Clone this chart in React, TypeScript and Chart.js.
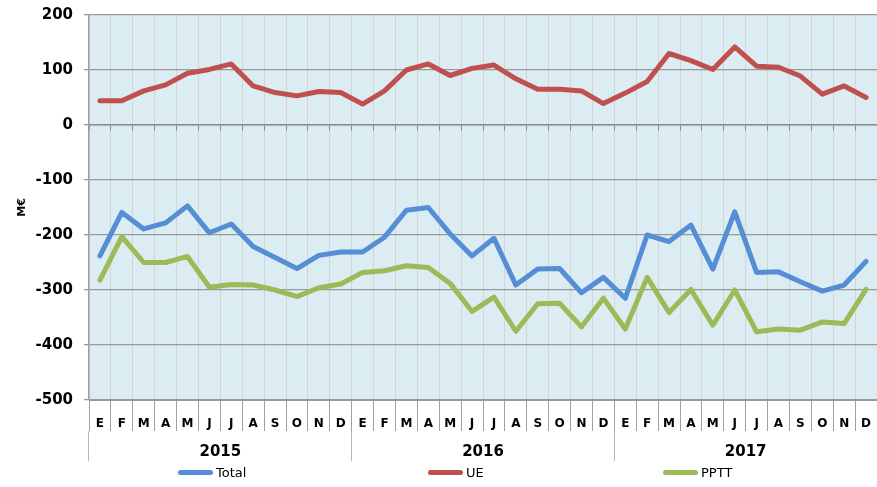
import React, { useEffect, useRef } from 'react';
import { Chart, registerables } from 'chart.js';

Chart.register(...registerables);

// ---------- data ----------
const monthLabels = [
  'E', 'F', 'M', 'A', 'M', 'J', 'J', 'A', 'S', 'O', 'N', 'D',
  'E', 'F', 'M', 'A', 'M', 'J', 'J', 'A', 'S', 'O', 'N', 'D',
  'E', 'F', 'M', 'A', 'M', 'J', 'J', 'A', 'S', 'O', 'N', 'D',
];
const yearLabels = ['2015', '2016', '2017'];

const seriesNames = ['Total', 'UE', 'PPTT'];
const seriesColors = ['#558ed5', '#c0504d', '#9bbb59'];

const totalValues = [
  -238, -159, -189, -178, -147, -196, -180, -221, -241, -261, -237, -231,
  -231, -204, -155, -150, -198, -238, -206, -291, -262, -261, -305, -277,
  -315, -200, -212, -182, -262, -158, -268, -267, -285, -302, -291, -248,
];
const ueValues = [
  44, 44, 62, 73, 94, 101, 111, 71, 59, 53, 61, 59,
  38, 62, 100, 111, 90, 103, 109, 84, 65, 65, 62, 39,
  58, 79, 130, 117, 101, 142, 107, 105, 89, 56, 71, 50,
];
const ppttValues = [
  -282, -203, -250, -250, -239, -295, -290, -291, -300, -312, -296, -289,
  -268, -265, -256, -259, -288, -339, -313, -375, -325, -324, -367, -315,
  -371, -277, -341, -299, -364, -300, -376, -371, -373, -358, -361, -299,
];

const yMin = -500;
const yMax = 200;
const yStep = 100;
const yTitle = 'M€';

// ---------- layout / style ----------
const W = 877;
const H = 487;
const FONT = "'DejaVu Sans', Verdana, sans-serif";
const legendLefts = [178, 428, 663];

const plotBackground = {
  id: 'plotBackground',
  beforeDraw(chart: any) {
    const { ctx, chartArea } = chart;
    if (!chartArea) return;
    ctx.save();
    ctx.fillStyle = '#dbecf2';
    ctx.fillRect(chartArea.left, chartArea.top, chartArea.right - chartArea.left, chartArea.bottom - chartArea.top);
    ctx.restore();
  },
};

export default function App() {
  const canvasRef = useRef<HTMLCanvasElement | null>(null);

  useEffect(() => {
    if (!canvasRef.current) return;
    const allValues = [totalValues, ueValues, ppttValues];
    const chart = new Chart(canvasRef.current, {
      type: 'line',
      data: {
        labels: monthLabels,
        datasets: seriesNames.map((name, i) => ({
          label: name,
          data: allValues[i],
          borderColor: seriesColors[i],
          backgroundColor: seriesColors[i],
          borderWidth: 5,
          pointRadius: 0,
          pointHoverRadius: 0,
          tension: 0,
          fill: false,
          borderJoinStyle: 'round',
          borderCapStyle: 'round',
        })),
      },
      options: {
        animation: false,
        responsive: false,
        maintainAspectRatio: false,
        events: [],
        layout: { padding: { top: 15, right: 0, bottom: 26, left: 0 } },
        plugins: {
          legend: { display: false },
          tooltip: { enabled: false },
        },
        scales: {
          x: {
            type: 'category',
            position: 'bottom',
            offset: true,
            weight: 0,
            grid: {
              offset: true,
              color: '#d4d4d4',
              lineWidth: 1,
              tickColor: '#a0a0a0',
              tickLength: 31,
              drawOnChartArea: true,
            },
            border: { display: true, color: '#999999', width: 1 },
            ticks: {
              font: { family: FONT, size: 12, weight: 'bold' },
              color: '#000',
              padding: -14.5,
              maxRotation: 0,
              autoSkip: false,
            },
            afterFit: (s: any) => {
              s.height = 31;
            },
          },
          x2: {
            type: 'category',
            labels: yearLabels,
            position: 'bottom',
            offset: true,
            weight: 1,
            grid: {
              offset: true,
              drawOnChartArea: false,
              tickLength: 30,
              tickColor: '#b8b8b8',
              lineWidth: 1,
            },
            border: { display: false },
            ticks: {
              font: { family: FONT, size: 15, weight: 'bold' },
              color: '#000',
              padding: -18,
              maxRotation: 0,
              autoSkip: false,
            },
            afterFit: (s: any) => {
              s.height = 30;
            },
          },
          x0: {
            type: 'category',
            labels: monthLabels,
            position: { y: 0 },
            offset: true,
            grid: {
              offset: true,
              drawOnChartArea: false,
              tickLength: 5,
              tickColor: '#8c8c8c',
              lineWidth: 1,
            },
            border: { display: true, color: '#8c8c8c', width: 1.5 },
            ticks: { display: false },
          },
          y: {
            type: 'linear',
            min: yMin,
            max: yMax,
            ticks: {
              stepSize: yStep,
              font: { family: FONT, size: 15, weight: 'bold' },
              color: '#000',
              padding: 11,
            },
            grid: {
              color: '#999999',
              lineWidth: 1.3,
              tickLength: 5,
              tickColor: '#999999',
            },
            border: { display: true, color: '#a0a0a0', width: 1.5 },
            title: {
              display: true,
              text: yTitle,
              font: { family: FONT, size: 11, weight: 'bold' },
              color: '#000',
              padding: { top: 16, bottom: 0 },
            },
            afterFit: (s: any) => {
              s.width = 89;
              s.paddingTop = 0;
              s.paddingBottom = 0;
            },
          },
        },
      },
      plugins: [plotBackground],
    } as any);
    return () => chart.destroy();
  }, []);

  return (
    <div style={{ position: 'absolute', left: 0, top: 0, width: W, height: H, background: '#fff' }}>
      <canvas ref={canvasRef} width={W} height={H} style={{ display: 'block', width: W, height: H }} />
      {seriesNames.map((name, i) => (
        <div
          key={name}
          style={{
            position: 'absolute',
            left: legendLefts[i],
            top: 464,
            height: 17,
            display: 'flex',
            alignItems: 'center',
            fontFamily: FONT,
            fontSize: 13,
            color: '#000',
            whiteSpace: 'nowrap',
          }}
        >
          <span
            style={{
              display: 'inline-block',
              width: 35,
              height: 5,
              borderRadius: 3,
              background: seriesColors[i],
              marginRight: 3,
            }}
          />
          <span>{name}</span>
        </div>
      ))}
    </div>
  );
}
